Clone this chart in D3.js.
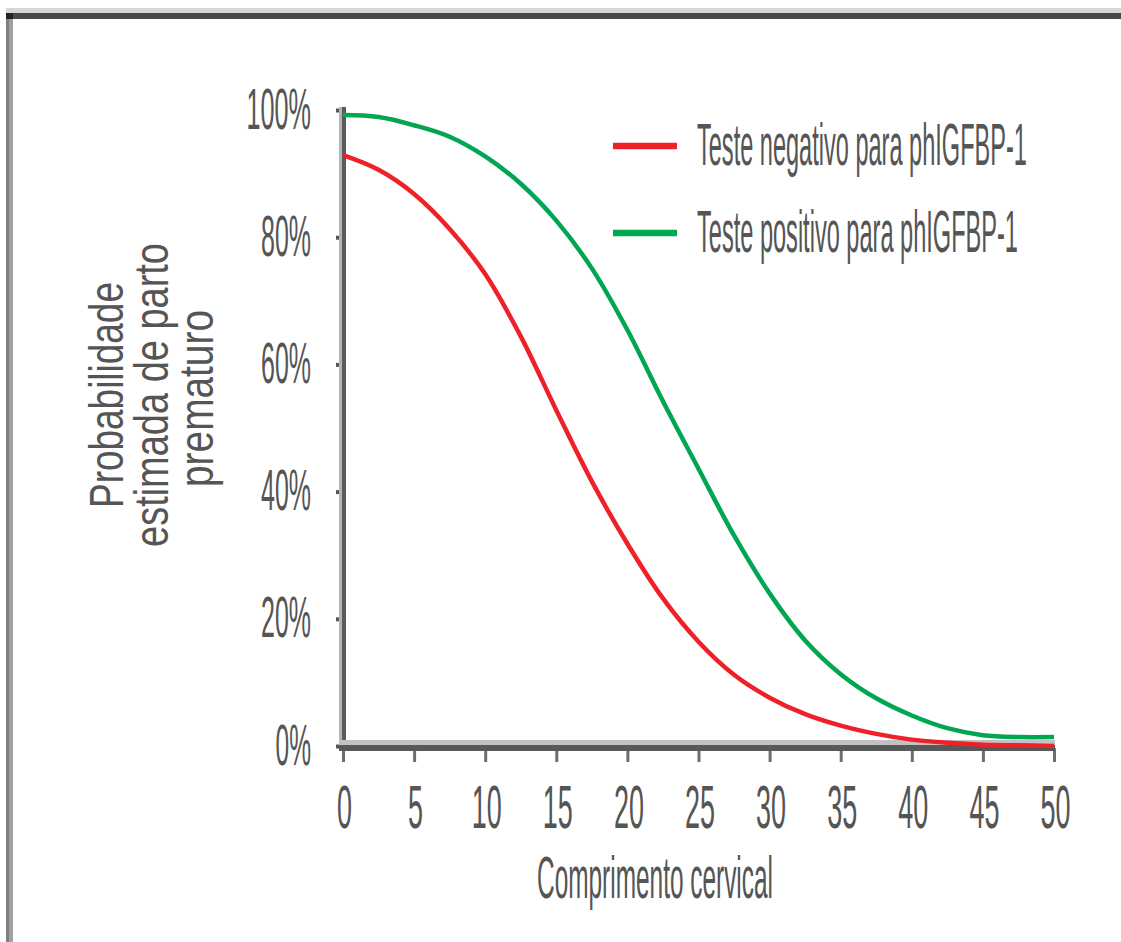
<!DOCTYPE html>
<html>
<head>
<meta charset="utf-8">
<script src="https://cdn.jsdelivr.net/npm/d3@7"></script>
<style>
  html, body { margin: 0; padding: 0; background: #fff; }
  svg { display: block; }
  text { font-family: "Liberation Sans", Arial, sans-serif; fill: #555; }
</style>
</head>
<body>
<svg id="chart" width="1121" height="942"></svg>
<script>
// ---- data ----
const xValues = [0, 2.5, 5, 7.5, 10, 12.5, 15, 17.5, 20, 22.5, 25, 27.5, 30, 32.5, 35, 37.5, 40, 42.5, 45, 47.5, 50];
const negativeValues = [92.9, 90.6, 86.8, 81.3, 74.2, 64.4, 52.8, 41.6, 31.8, 23.2, 16.4, 11.2, 7.6, 5.0, 3.2, 1.9, 1.0, 0.5, 0.2, 0.1, 0.0];
const positiveValues = [99.2, 98.9, 97.6, 95.8, 92.7, 88.4, 82.6, 75.1, 65.4, 54.2, 43.6, 33.1, 24.0, 16.6, 11.3, 7.5, 4.8, 2.8, 1.7, 1.4, 1.4];
const seriesNames = ["Teste negativo para phIGFBP-1", "Teste positivo para phIGFBP-1"];
const seriesColors = ["#ee2128", "#00a651"];
const xTicks = [0, 5, 10, 15, 20, 25, 30, 35, 40, 45, 50];
const yTicks = [0, 20, 40, 60, 80, 100];
const yTickLabels = ["0%", "20%", "40%", "60%", "80%", "100%"];
const xTitle = "Comprimento cervical";
const yTitleLines = ["Probabilidade", "estimada de parto", "prematuro"];

// ---- layout ----
const svg = d3.select("#chart");
const x = d3.scaleLinear().domain([0, 50]).range([343, 1054]);
const y = d3.scaleLinear().domain([0, 100]).range([746, 110]);

// helper: condensed text by horizontal scaling to a target width
function condensed(parent, str, px, py, size, width, anchor, rotate) {
  const g = parent.append("g");
  const t = g.append("text").attr("font-size", size).attr("text-anchor", anchor).text(str);
  const natural = t.node().getComputedTextLength();
  const sx = width / natural;
  g.attr("transform", `translate(${px},${py})` + (rotate ? ` rotate(${rotate})` : "") + ` scale(${sx},1)`);
  return g;
}

// frame borders
svg.append("rect").attr("x", 6).attr("y", 8).attr("width", 1115).attr("height", 5).attr("fill", "#d6d6d6");
svg.append("rect").attr("x", 6).attr("y", 13).attr("width", 1115).attr("height", 6).attr("fill", "#484848");
svg.append("rect").attr("x", 6).attr("y", 13).attr("width", 3).attr("height", 929).attr("fill", "#7f7f7f");
svg.append("rect").attr("x", 9).attr("y", 19).attr("width", 4).attr("height", 923).attr("fill", "#a2a2a2");
svg.append("rect").attr("x", 6).attr("y", 13).attr("width", 7).attr("height", 6).attr("fill", "#222");

// x axis ticks
const xAxis = svg.append("g")
  .attr("transform", `translate(0,${y(0) + 2})`)
  .call(d3.axisBottom(x).tickValues(xTicks).tickSize(14).tickSizeOuter(0).tickFormat(""));
xAxis.select(".domain").remove();
xAxis.selectAll(".tick line").attr("stroke", "#6e6e6e").attr("stroke-width", 3);
xAxis.selectAll(".tick").each(function(d) {
  const s = String(d);
  condensed(d3.select(this), s, 1, 80, 62, s.length * 15, "middle");
});

// y axis ticks
const yAxis = svg.append("g")
  .attr("transform", `translate(${x(0) + 3},0)`)
  .call(d3.axisLeft(y).tickValues(yTicks).tickSize(10).tickSizeOuter(0).tickFormat(""));
yAxis.select(".domain").remove();
yAxis.selectAll(".tick line").attr("stroke", "#555").attr("stroke-width", 4);
yAxis.selectAll(".tick").each(function(d, i) {
  const s = yTickLabels[i];
  condensed(d3.select(this), s, -35, 18, 58, (s.length - 1) * 14.5 + 21, "end");
});

// axis lines (two-tone)
const [x0, x1] = x.range();
const [yb, yt] = y.range();
svg.append("line").attr("x1", x0 - 2.5).attr("x2", x0 - 2.5).attr("y1", yt - 3).attr("y2", yb + 5)
  .attr("stroke", "#b4b4b4").attr("stroke-width", 3);
svg.append("line").attr("x1", x0 + 1).attr("x2", x0 + 1).attr("y1", yt - 3).attr("y2", yb + 5)
  .attr("stroke", "#5a5a5a").attr("stroke-width", 4);
svg.append("line").attr("x1", x0 - 4).attr("x2", x1 + 1).attr("y1", yb - 3.5).attr("y2", yb - 3.5)
  .attr("stroke", "#c2c2c2").attr("stroke-width", 5);
svg.append("line").attr("x1", x0 - 4).attr("x2", x1 + 1).attr("y1", yb + 2).attr("y2", yb + 2)
  .attr("stroke", "#585858").attr("stroke-width", 6);

// curves
const line = d3.line().x(d => x(d[0])).y(d => y(d[1])).curve(d3.curveCatmullRom.alpha(0.5));
[negativeValues, positiveValues].forEach((vals, i) => {
  svg.append("path")
    .datum(xValues.map((v, j) => [v, vals[j]]))
    .attr("d", line)
    .attr("fill", "none")
    .attr("stroke", seriesColors[i])
    .attr("stroke-width", 4.5)
    .attr("stroke-linejoin", "round");
});

// legend
const legendY = [146, 233];
const legendLen = [330, 321];
seriesNames.forEach((name, i) => {
  svg.append("line").attr("x1", 613).attr("x2", 677).attr("y1", legendY[i]).attr("y2", legendY[i])
    .attr("stroke", seriesColors[i]).attr("stroke-width", 6.5);
  condensed(svg, name, 697, legendY[i] + 19, 60, legendLen[i], "start");
});

// x title
condensed(svg, xTitle, 655, 898, 60, 236, "middle");

// y title (rotated, 3 lines)
const yTitlePos = [[123, 395], [168, 395], [213, 398.5]];
const yTitleLen = [226, 304, 177];
yTitleLines.forEach((t, i) => {
  condensed(svg, t, yTitlePos[i][0], yTitlePos[i][1], 49, yTitleLen[i], "middle", -90);
});
</script>
</body>
</html>
